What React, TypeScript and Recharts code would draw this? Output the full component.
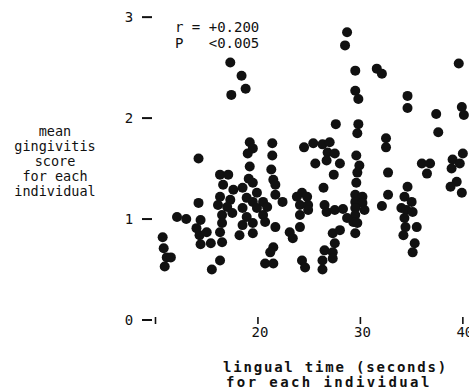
import React from 'react';
import { ScatterChart, Scatter, XAxis, YAxis } from 'recharts';

// lingual time (seconds) for each individual
const lingualTime: number[] = [
  17.3, 18.4, 18.8, 17.4, 19.2, 19.5, 19.0, 21.4,
  28.7, 28.5, 29.5, 31.6, 32.1, 39.6, 29.5, 29.8,
  34.6, 34.6, 37.4, 37.6, 39.9, 40.1, 27.6, 29.8,
  29.7, 32.5, 32.5, 24.5, 25.4, 26.3, 27.0, 26.8,
  27.5, 26.7, 28.0, 25.6, 27.4, 29.6, 29.9, 29.7,
  29.6, 32.7, 36.0, 36.8, 36.5, 39.0, 40.0, 39.7,
  38.9, 39.4, 38.8, 39.9, 34.6, 34.3, 35.0, 34.0,
  34.5, 35.1, 34.3, 34.4, 35.5, 34.2, 35.3, 35.1,
  32.7, 32.1, 26.4, 24.3, 23.8, 24.8, 24.1, 24.9,
  24.1, 24.9, 22.4, 29.5, 30.2, 29.5, 30.2, 29.5,
  30.4, 29.5, 29.3, 29.7, 29.5, 26.5, 26.7, 27.5,
  28.3, 28.7, 24.1, 23.1, 23.4, 27.3, 28.0, 27.5,
  26.5, 27.3, 26.3, 27.3, 26.3, 24.3, 24.6, 21.4,
  14.2, 19.2, 21.3, 21.5, 16.3, 17.1, 19.1, 19.5,
  16.6, 17.6, 18.5, 19.9, 21.7, 21.7, 16.3, 17.3,
  18.9, 19.5, 20.5, 14.2, 16.1, 17.0, 18.5, 19.9,
  20.9, 16.5, 17.5, 18.9, 20.5, 12.1, 13.0, 14.4,
  14.0, 16.5, 18.5, 19.5, 20.7, 21.7, 14.3, 15.0,
  16.3, 18.2, 19.5, 14.4, 15.4, 16.5, 10.7, 10.8,
  11.1, 10.9, 11.5, 16.3, 15.5, 21.5, 21.2, 20.7,
  21.5,
];

// mean gingivitis score for each individual
const gingivitisScore: number[] = [
  2.55, 2.42, 2.29, 2.23, 1.76, 1.70, 1.65, 1.75,
  2.85, 2.72, 2.47, 2.49, 2.44, 2.54, 2.27, 2.19,
  2.22, 2.10, 2.04, 1.86, 2.11, 2.03, 1.94, 1.94,
  1.85, 1.80, 1.71, 1.71, 1.75, 1.74, 1.76, 1.66,
  1.65, 1.58, 1.55, 1.55, 1.44, 1.63, 1.53, 1.46,
  1.36, 1.46, 1.55, 1.55, 1.45, 1.59, 1.65, 1.55,
  1.50, 1.37, 1.32, 1.26, 1.32, 1.22, 1.17, 1.11,
  1.09, 1.07, 1.01, 0.92, 0.92, 0.84, 0.76, 0.67,
  1.24, 1.13, 1.31, 1.26, 1.22, 1.22, 1.14, 1.14,
  1.04, 1.09, 1.17, 1.24, 1.22, 1.17, 1.16, 1.11,
  1.09, 1.04, 0.97, 0.96, 0.86, 1.14, 1.07, 1.09,
  1.10, 1.01, 0.92, 0.87, 0.81, 0.86, 0.89, 0.76,
  0.69, 0.67, 0.59, 0.61, 0.50, 0.59, 0.52, 1.63,
  1.60, 1.52, 1.49, 1.39, 1.44, 1.44, 1.40, 1.36,
  1.34, 1.29, 1.31, 1.26, 1.34, 1.24, 1.22, 1.19,
  1.21, 1.17, 1.17, 1.16, 1.14, 1.12, 1.11, 1.11,
  1.12, 1.04, 1.06, 1.02, 1.04, 1.02, 1.00, 0.99,
  0.91, 0.96, 0.94, 0.96, 0.97, 0.92, 0.84, 0.87,
  0.87, 0.84, 0.86, 0.75, 0.76, 0.77, 0.82, 0.71,
  0.62, 0.53, 0.62, 0.59, 0.50, 0.72, 0.67, 0.56,
  0.56,
];

const xTicks = [10, 20, 30, 40];
const xTickLabels = ['', '20', '30', '40'];
const yTicks = [0, 1, 2, 3];
const yTickLabels = ['0', '1', '2', '3'];
const yTitleLines = ['mean', 'gingivitis', 'score', 'for each', 'individual'];
const xTitleLines = ['lingual time (seconds)', 'for each individual'];
const statLines = ['r = +0.200', 'P   <0.005'];

const data = lingualTime.map((x, i) => ({ x, y: gingivitisScore[i] }));

const FONT = '"DejaVu Sans Mono", "Liberation Mono", monospace';
const INK = '#111';

const XTick = (props: any) => {
  const { x, y, payload } = props;
  const idx = xTicks.indexOf(payload.value);
  const label = idx >= 0 ? xTickLabels[idx] : '';
  return (
    <g>
      <line x1={x} x2={x} y1={y - 3} y2={y + 4} stroke={INK} strokeWidth={1.6} />
      {label && (
        <text x={x + 2} y={y + 17} textAnchor="middle" fontFamily={FONT} fontSize={14} fill={INK}>
          {label}
        </text>
      )}
    </g>
  );
};

const YTick = (props: any) => {
  const { x, y, payload } = props;
  const idx = yTicks.indexOf(payload.value);
  const label = idx >= 0 ? yTickLabels[idx] : '';
  return (
    <g>
      <text x={x - 6} y={y + 5} textAnchor="middle" fontFamily={FONT} fontSize={14} fill={INK}>
        {label}
      </text>
      <line x1={x + 7} x2={x + 17} y1={y} y2={y} stroke={INK} strokeWidth={2} />
    </g>
  );
};

const Dot = (props: any) => {
  const { cx, cy } = props;
  if (cx == null || cy == null) return null;
  return <circle cx={cx} cy={cy} r={5} fill={INK} />;
};

export default function App() {
  return (
    <div style={{ position: 'absolute', left: 0, top: 0, width: 469, height: 390, background: '#fff' }}>
      <ScatterChart width={469} height={390} margin={{ top: 2, right: 0, bottom: 0, left: 85 }}>
        <XAxis
          type="number"
          dataKey="x"
          domain={[8, 40.6]}
          ticks={xTicks}
          height={70}
          axisLine={false}
          tickLine={false}
          tickSize={0}
          tickMargin={0}
          tick={<XTick />}
          allowDataOverflow
          interval={0}
        />
        <YAxis
          type="number"
          dataKey="y"
          domain={[0, 3.15]}
          ticks={yTicks}
          width={50}
          axisLine={false}
          tickLine={false}
          tickSize={0}
          tickMargin={0}
          tick={<YTick />}
          allowDataOverflow
          interval={0}
        />
        <Scatter data={data} shape={<Dot />} isAnimationActive={false} />
      </ScatterChart>
      <svg
        width={469}
        height={390}
        style={{ position: 'absolute', left: 0, top: 0, pointerEvents: 'none' }}
      >
        {yTitleLines.map((t, i) => (
          <text key={t} x={55} y={136 + i * 15} textAnchor="middle" fontFamily={FONT} fontSize={13.5} fill={INK}>
            {t}
          </text>
        ))}
        {xTitleLines.map((t, i) => (
          <text
            key={t}
            x={i === 0 ? 223 : 226}
            y={372 + i * 15}
            fontFamily={FONT}
            fontSize={14}
            fontWeight="bold"
            letterSpacing={i === 0 ? 1.8 : 2.4}
            fill={INK}
          >
            {t}
          </text>
        ))}
        {statLines.map((t, i) => (
          <text
            key={t}
            x={175}
            y={32 + i * 16}
            fontFamily={FONT}
            fontSize={14}
            fill={INK}
            style={{ whiteSpace: 'pre' }}
            xmlSpace="preserve"
          >
            {t}
          </text>
        ))}
      </svg>
    </div>
  );
}
